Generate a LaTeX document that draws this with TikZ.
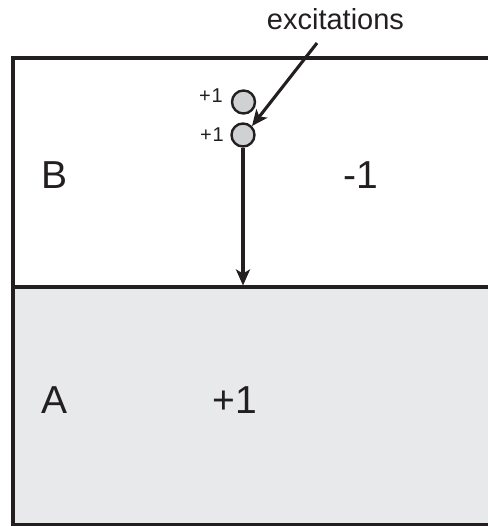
\documentclass[tikz,border=0pt]{standalone}
\usepackage{fontspec}
\setmainfont{Liberation Sans}
\usetikzlibrary{arrows.meta}
\definecolor{regionA}{HTML}{E8E9EB}
\definecolor{dotfill}{HTML}{D0D1D3}
\definecolor{ink}{HTML}{231F20}
\begin{document}
\begin{tikzpicture}[x=1pt,y=-1pt,
  bigtext/.style={font=\fontsize{39}{39}\selectfont,text=ink,inner sep=0pt,anchor=base},
  smalltext/.style={font=\fontsize{20}{20}\selectfont,text=ink,inner sep=0pt,anchor=base east},
  dot/.style={circle,draw=ink,line width=2.4pt,fill=dotfill,minimum size=23pt,inner sep=0pt},
  border/.style={draw=ink,line width=3.8pt},
  arr/.style={draw=ink,line width=3.1pt,-{Stealth[length=16pt,width=14pt,inset=4pt]}}]
\useasboundingbox (0,0) rectangle (487,526);
\fill[regionA] (13,287) rectangle (495,524.5);
\draw[border] (500,58) -- (13,58) -- (13,524.5) -- (500,524.5);
\draw[border] (13,287) -- (500,287);
\coordinate (mid) at (243,285.5);
\node[dot] (c1) at (243.5,102) {};
\node[dot] (c2) at (243,135) {};
\node[smalltext] (l1) at (223,103) {+\kern1pt1};
\node[smalltext] (l2) at (224,142) {+\kern1pt1};
\node[font=\fontsize{29}{29}\selectfont,text=ink,inner sep=0pt,anchor=base] (exc) at (335.5,30) {excitations};
\coordinate (exstart) at (317,43);
\draw[arr] (exstart) -- (c2.north east);
\draw[arr] (c2.south) -- (mid);
\node[bigtext] (B) at (54.5,189) {B};
\node[bigtext] (m1) at (361,189) {-1};
\node[bigtext] (A) at (54.5,413) {A};
\node[bigtext] (p1) at (235,413) {+1};
\end{tikzpicture}
\end{document}
